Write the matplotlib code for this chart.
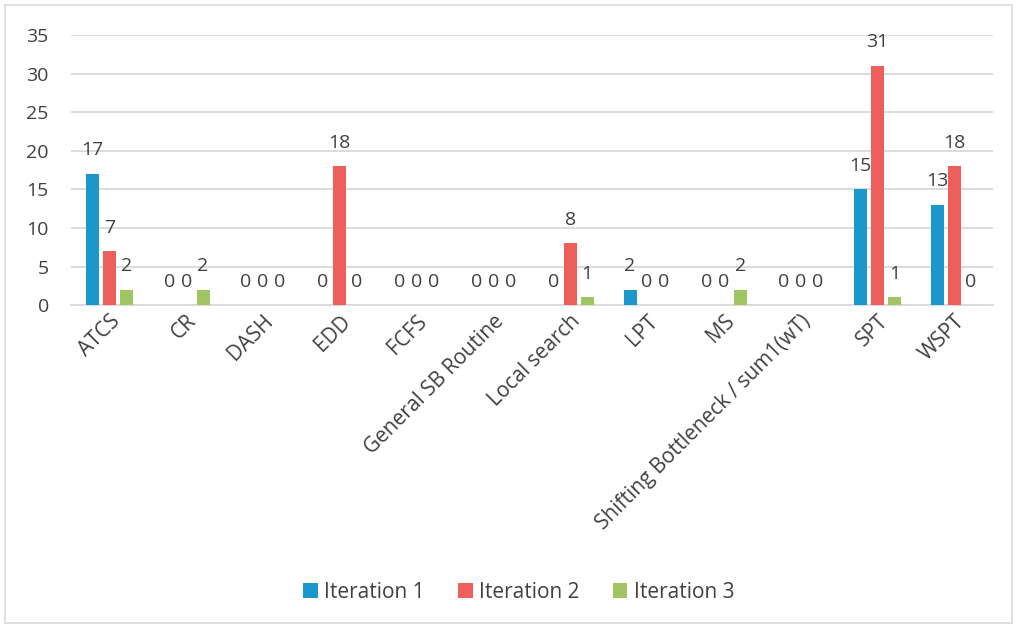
import matplotlib.pyplot as plt
import numpy as np
from matplotlib.patches import Rectangle

plt.rcParams['font.family'] = ['Open Sans', 'DejaVu Sans']

categories = ["ATCS", "CR", "DASH", "EDD", "FCFS", "General SB Routine",
              "Local search", "LPT", "MS", "Shifting Bottleneck / sum1(wT)",
              "SPT", "WSPT"]
iter1 = [17, 0, 0, 0, 0, 0, 0, 2, 0, 0, 15, 13]
iter2 = [7, 0, 0, 18, 0, 0, 8, 0, 0, 0, 31, 18]
iter3 = [2, 2, 0, 0, 0, 0, 1, 0, 2, 0, 1, 0]
series_names = ["Iteration 1", "Iteration 2", "Iteration 3"]
colors = ["#1c97cc", "#ee5e5a", "#a2c563"]

txt = "#404040"
fig = plt.figure(figsize=(10.17, 6.28), dpi=100)
ax = fig.add_axes([0.0698, 0.514, 0.9062, 0.430])

# thin frame around the whole chart
fig.patches.append(Rectangle((0.005, 0.008), 0.99, 0.984, transform=fig.transFigure,
                             fill=False, edgecolor="#d9d9d9", linewidth=1.2))

x = np.arange(len(categories))
w = 0.17
step = 0.22
for i, (vals, name, c) in enumerate(zip([iter1, iter2, iter3], series_names, colors)):
    pos = x + (i - 1) * step
    bars = ax.bar(pos, vals, width=w, color=c, label=name, zorder=3)
    for b, v in zip(bars, vals):
        ax.annotate(str(v), (b.get_x() + b.get_width() / 2, v),
                    xytext=(0, 17), textcoords="offset points",
                    ha="center", va="center", fontsize=14, color=txt)

ax.set_xlim(-0.5, len(categories) - 0.5)
ax.set_ylim(0, 35)
ax.set_yticks(range(0, 36, 5))
ax.yaxis.grid(True, color="#d9d9d9", linewidth=1.3)
ax.set_axisbelow(True)
for s in ["top", "right", "left"]:
    ax.spines[s].set_visible(False)
ax.spines["bottom"].set_color("#d9d9d9")
ax.spines["bottom"].set_linewidth(1.3)
ax.tick_params(axis="both", length=0, labelsize=14, labelcolor=txt)
ax.tick_params(axis="y", pad=16)
ax.tick_params(axis="x", labelsize=15, pad=4)
ax.set_xticks(x)
ax.set_xticklabels(categories, rotation=45, ha="right", rotation_mode="anchor")

fig.legend(loc="center", bbox_to_anchor=(0.51, 0.057), ncol=3, frameon=False,
           fontsize=15, handlelength=0.7, handleheight=0.7, handletextpad=0.3,
           columnspacing=1.6, labelcolor=txt)

fig.savefig("out.png", dpi=100)
